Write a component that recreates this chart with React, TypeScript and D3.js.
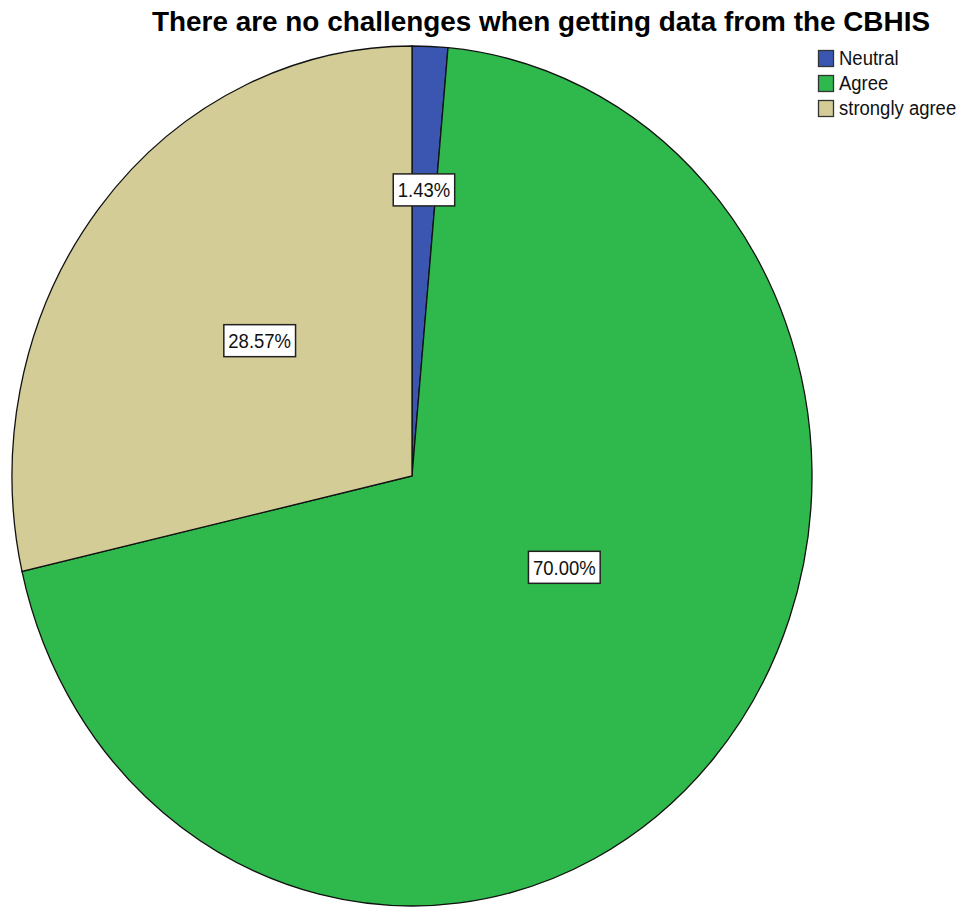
import React, { useEffect, useRef } from "react";
import * as d3 from "d3";

const title = "There are no challenges when getting data from the CBHIS";
const categories = ["Neutral", "Agree", "strongly agree"];
const values = [1.43, 70.0, 28.57];
const labels = ["1.43%", "70.00%", "28.57%"];
const colors = ["#3b56b0", "#2fb84b", "#d3cc97"];
// label anchor: angle shift from slice bisector (deg) and radial fraction
const labelAngleShift = [0, -12, 1];
const labelRadius = [0.666, 0.436, 0.494];

const W = 964;
const H = 907;

export default function App() {
  const ref = useRef<SVGSVGElement | null>(null);

  useEffect(() => {
    const svg = d3.select(ref.current);
    svg.selectAll("*").remove();

    const cx = 412, cy = 476, rx = 400, ry = 430;
    const pie = d3.pie<number>().sort(null).value((d) => d)(values);
    const arc = d3.arc<d3.PieArcDatum<number>>().innerRadius(0).outerRadius(1);

    const g = svg.append("g").attr("transform", `translate(${cx},${cy}) scale(${rx},${ry})`);
    g.selectAll("path")
      .data(pie)
      .join("path")
      .attr("d", (d) => arc(d) as string)
      .attr("fill", (d, i) => colors[i])
      .attr("stroke", "#111")
      .attr("stroke-width", 1.3)
      .attr("vector-effect", "non-scaling-stroke");

    // labels
    pie.forEach((d, i) => {
      const mid = (d.startAngle + d.endAngle) / 2 + (labelAngleShift[i] * Math.PI) / 180;
      const r = labelRadius[i];
      const x = cx + rx * r * Math.sin(mid);
      const y = cy - ry * r * Math.cos(mid);
      const lg = svg.append("g").attr("transform", `translate(${x},${y})`);
      const rect = lg.append("rect").attr("fill", "#fff").attr("stroke", "#222").attr("stroke-width", 1.5);
      const t = lg
        .append("text")
        .attr("text-anchor", "middle")
        .attr("dominant-baseline", "central")
        .attr("transform", "scale(1,1.1)")
        .attr("font-family", "Liberation Sans, Arial, sans-serif")
        .attr("font-size", 18.5)
        .attr("fill", "#111")
        .text(labels[i]);
      const w = (t.node() as SVGTextElement).getComputedTextLength();
      const bw = w + 9, bh = 32;
      rect.attr("x", -bw / 2).attr("y", -bh / 2).attr("width", bw).attr("height", bh);
    });

    // title
    svg
      .append("text")
      .attr("x", 0)
      .attr("y", 0)
      .attr("transform", `translate(541,31) scale(1,1.2)`)
      .attr("text-anchor", "middle")
      .attr("font-family", "Liberation Sans, Arial, sans-serif")
      .attr("font-weight", "bold")
      .attr("font-size", 23)
      .attr("textLength", 778)
      .attr("lengthAdjust", "spacingAndGlyphs")
      .attr("fill", "#000")
      .text(title);

    // legend
    const leg = svg.append("g").attr("transform", "translate(818,50)");
    categories.forEach((c, i) => {
      const row = leg.append("g").attr("transform", `translate(0,${i * 25})`);
      row
        .append("rect")
        .attr("x", 0.5)
        .attr("y", 0.5)
        .attr("width", 15)
        .attr("height", 16)
        .attr("fill", colors[i])
        .attr("stroke", "#333")
        .attr("stroke-width", 1.3);
      row
        .append("text")
        .attr("transform", "translate(21,14.5) scale(1,1.1)")
        .attr("font-family", "Liberation Sans, Arial, sans-serif")
        .attr("font-size", 18.5)
        .attr("fill", "#111")
        .text(c);
    });
  }, []);

  return (
    <svg
      ref={ref}
      width={W}
      height={H}
      style={{ position: "absolute", left: 0, top: 0, background: "#fff" }}
    />
  );
}
